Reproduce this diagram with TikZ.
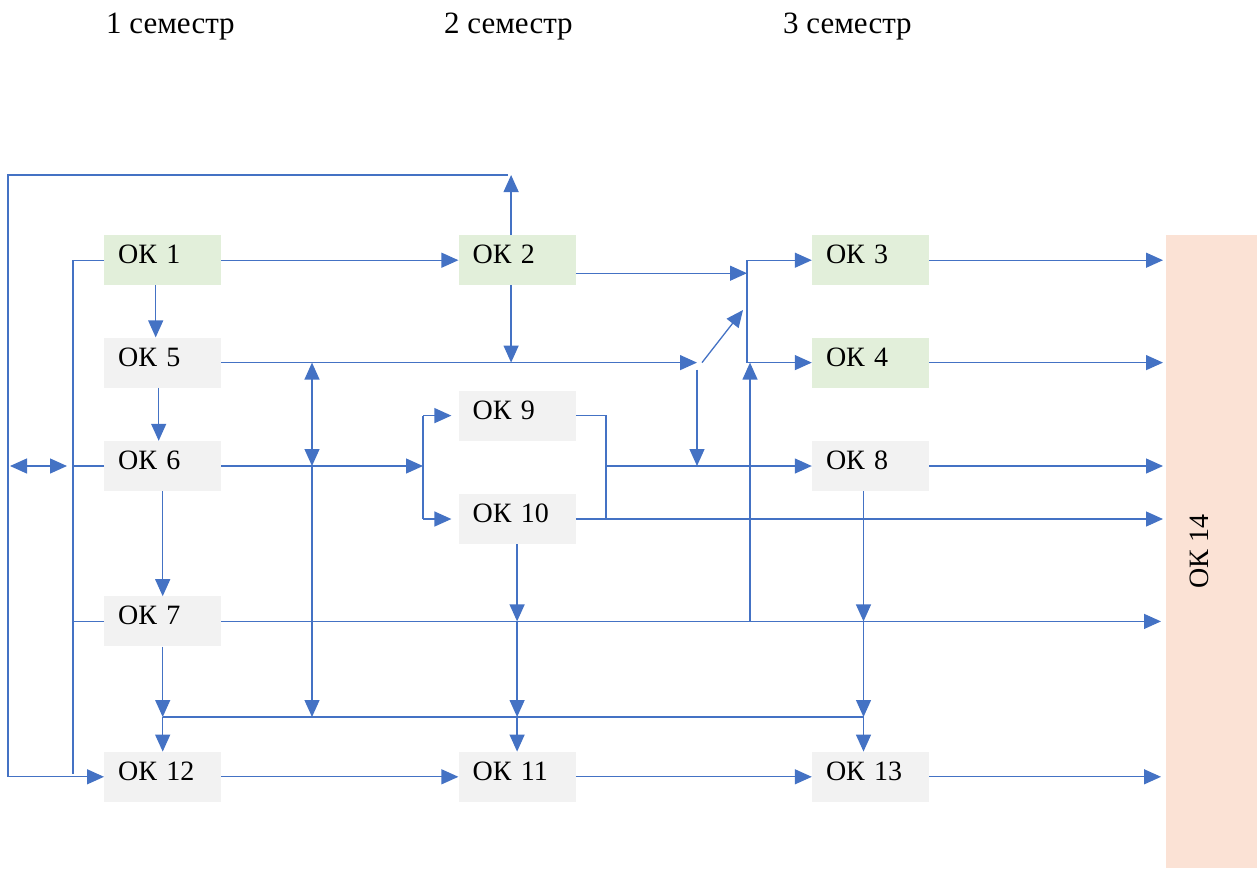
\documentclass[tikz,border=0pt]{standalone}
\usepackage{fontspec}
\setmainfont{Liberation Serif}
\usepackage{xcolor}
\usepackage{tikz}
\usetikzlibrary{arrows.meta, positioning, calc}

\definecolor{okGreenFill}{HTML}{E2EFDA}
\definecolor{okGrayFill}{HTML}{F2F2F2}
\definecolor{okPeachFill}{HTML}{FBE2D5}
\definecolor{okBlue}{HTML}{4472C4}

\begin{document}
\begin{tikzpicture}[x=1pt, y=-1pt, >={Triangle[length=17pt,width=15pt]}, font=\fontsize{28}{32}\selectfont]
  \tikzset{
    okbox/.style={anchor=north west, minimum width=117pt, minimum height=50pt,
      inner xsep=14pt, inner ysep=9.5pt, text width=89pt, align=left,
      text height=19pt, text depth=12pt},
    okgreen/.style={okbox, fill=okGreenFill},
    okgray/.style={okbox, fill=okGrayFill},
    finalbox/.style={anchor=north west, fill=okPeachFill, minimum width=91pt, minimum height=633pt, inner sep=0pt},
    semlabel/.style={anchor=base west, inner sep=0pt, font=\fontsize{31}{34}\selectfont},
    link/.style={draw=okBlue, line width=1.3pt}
  }
  \useasboundingbox (0,0) rectangle (1257,868);

  % semesters
  \node[semlabel] (sem1) at (106,33) {1 семестр};
  \node[semlabel] (sem2) at (444,33) {2 семестр};
  \node[semlabel] (sem3) at (783,33) {3 семестр};

  % column 1
  \node[okgreen] (ok1) at (104,235) {ОК 1};
  \node[okgray, below=52pt of ok1] (ok5) {ОК 5};
  \node[okgray, below=53pt of ok5] (ok6) {ОК 6};
  \node[okgray, below=105pt of ok6] (ok7) {ОК 7};
  \node[okgray, below=105pt of ok7] (ok12) {ОК 12};
  % column 2
  \node[okgreen, right=237pt of ok1] (ok2) {ОК 2};
  \node[okgray, below=105pt of ok2] (ok9) {ОК 9};
  \node[okgray, below=53pt of ok9] (ok10) {ОК 10};
  \node[okgray, right=237pt of ok12] (ok11) {ОК 11};
  % column 3
  \node[okgreen, right=236pt of ok2] (ok3) {ОК 3};
  \node[okgreen, below=52pt of ok3] (ok4) {ОК 4};
  \node[okgray, below=53pt of ok4] (ok8) {ОК 8};
  \node[okgray, right=236pt of ok11] (ok13) {ОК 13};
  % final
  \node[finalbox] (ok14) at (1166,235) {\rotatebox{90}{ОК 14}\hspace*{24pt}};

  % helper points
  \coordinate (frameTL) at (8,175);
  \coordinate (frameBL) at (8,775);
  \coordinate (innerB) at (73,774);
  \coordinate (bus) at (0,717);
  \coordinate (xMid) at (312,0);
  \coordinate (fork) at (423,0);
  \coordinate (join) at (606,0);
  \coordinate (jn) at (697,0);
  \coordinate (diagEnd) at (743,310);
  \coordinate (spine) at (747,0);

  % outer loop
  \draw[link,->] ([xshift=-6pt]ok2.north) -- ([xshift=-6pt]ok2.north |- frameTL);
  \draw[link,->] ([xshift=-9pt]ok2.north |- frameTL) -- (frameTL) -- (frameTL |- ok12.west) -- (ok12.west);
  % inner loop
  \draw[link] (ok1.west) -| (innerB);
  \draw[link] (ok6.west) -- (ok6.west -| innerB);
  \draw[link] (ok7.west) -- (ok7.west -| innerB);
  \draw[link,<->,shorten <=2pt,shorten >=6pt] (frameBL |- ok6.west) -- (innerB |- ok6.west);

  % column 1 downwards
  \draw[link,->] ([xshift=-7pt]ok1.south) -- ([xshift=-7pt]ok5.north);
  \draw[link,->] ([xshift=-4pt]ok5.south) -- ([xshift=-4pt]ok6.north);
  \draw[link,->] (ok6.south) -- (ok7.north);
  \draw[link,->] (ok7.south) -- (ok7.south |- bus);

  % bottom bus
  \draw[link] (ok7.south |- bus) -- ([xshift=-7pt]ok13.north |- bus);
  \draw[link,->] (ok7.south |- bus) -- (ok12.north);
  \draw[link,->] (ok10.south |- bus) -- (ok11.north);
  \draw[link,->] ([xshift=-7pt]ok13.north |- bus) -- ([xshift=-7pt]ok13.north);

  % middle vertical
  \draw[link,<->] (xMid |- ok5.east) -- (xMid |- ok6.east);
  \draw[link,->] (xMid |- ok6.east) -- (xMid |- bus);

  % horizontals
  \draw[link,->] (ok1.east) -- (ok2.west);
  \draw[link,->] (ok5.east) -- (jn |- ok5.east);
  \draw[link,->] ([xshift=-6pt]ok2.south) -- ([xshift=-6pt]ok2.south |- ok5.east);
  \draw[link,->] ([xshift=5pt]jn |- ok5.east) -- (diagEnd);
  \draw[link,->] ([yshift=-7pt]jn |- ok5.east) -- (jn |- ok8.west);
  \draw[link,->] ([yshift=-13pt]ok2.east) -- ([yshift=-13pt]spine |- ok2.east);
  \draw[link] (spine |- ok3.west) -- (spine |- ok4.west);
  \draw[link,->] (spine |- ok3.west) -- (ok3.west);
  \draw[link,->] (spine |- ok4.west) -- (ok4.west);
  \draw[link,->] ([xshift=3pt]spine |- ok7.east) -- ([xshift=3pt]spine |- ok4.west);

  % fork to ok9 / ok10
  \draw[link,->] (ok6.east) -- (fork |- ok6.east);
  \draw[link] (fork |- ok9.west) -- (fork |- ok10.west);
  \draw[link,->] (fork |- ok9.west) -- ([xshift=-7pt]ok9.west);
  \draw[link,->] (fork |- ok10.west) -- ([xshift=-7pt]ok10.west);
  \draw[link] (ok9.east) -| (join |- ok10.east);
  \draw[link,->] (join |- ok8.west) -- (ok8.west);

  % down from ok10 and ok8
  \draw[link,->] (ok10.south) -- (ok10.south |- ok7.east);
  \draw[link,->] (ok10.south |- ok7.east) -- (ok10.south |- bus);
  \draw[link,->] ([xshift=-7pt]ok8.south) -- ([xshift=-7pt]ok8.south |- ok7.east);
  \draw[link,->] ([xshift=-7pt]ok8.south |- ok7.east) -- ([xshift=-7pt]ok8.south |- bus);

  % into ok14
  \draw[link,->,shorten >=3pt] (ok3.east) -- (ok3.east -| ok14.west);
  \draw[link,->,shorten >=3pt] (ok4.east) -- (ok4.east -| ok14.west);
  \draw[link,->,shorten >=3pt] (ok8.east) -- (ok8.east -| ok14.west);
  \draw[link,->,shorten >=3pt] (ok10.east) -- (ok10.east -| ok14.west);
  \draw[link,->,shorten >=5pt] (ok7.east) -- (ok7.east -| ok14.west);
  \draw[link,->,shorten >=5pt] (ok13.east) -- (ok13.east -| ok14.west);

  % bottom row
  \draw[link,->] (ok12.east) -- (ok11.west);
  \draw[link,->] (ok11.east) -- (ok13.west);
\end{tikzpicture}
\end{document}
